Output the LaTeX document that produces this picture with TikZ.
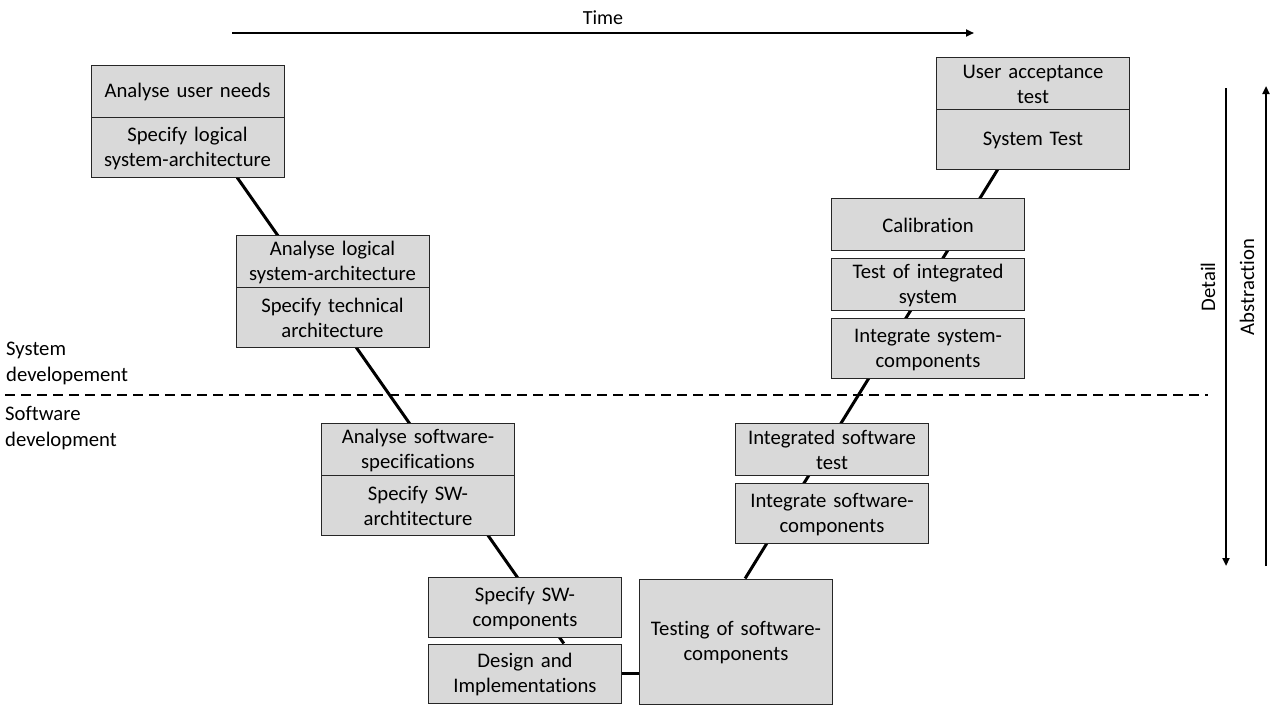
\documentclass[tikz,border=0pt]{standalone}
\usepackage{fontspec}
\setmainfont{Carlito}[Ligatures=NoCommon]
\usetikzlibrary{arrows.meta,backgrounds,calc}
\definecolor{boxgray}{HTML}{D9D9D9}
\tikzset{
	phase/.style={draw=black!85, line width=1pt, fill=boxgray, minimum width=193pt, text width=190pt, align=center, inner sep=0pt, text height=16.5pt, font=\fontsize{20.7}{25}\selectfont},
	vline/.style={line width=3pt},
	label/.style={inner sep=0pt, font=\fontsize{20.7}{25.5}\selectfont}
}
\begin{document}
\begin{tikzpicture}[x=1pt, y=-1pt]
		\useasboundingbox (0,0) rectangle (1280,720);
		\node[phase, minimum height=52pt] (needs) at (187.5, 91) {Analyse user needs};
		\node[phase, minimum height=60pt] (logspec) at (187.5, 147) {Specify logical\\system-architecture};
		\node[phase, minimum height=52pt] (loganalyse) at (332.5, 261) {Analyse logical\\system-architecture};
		\node[phase, minimum height=60pt] (techspec) at (332.5, 317) {Specify technical\\architecture};
		\node[phase, minimum height=52pt] (swanalyse) at (418, 449) {Analyse software-\\specifications};
		\node[phase, minimum height=60pt] (swarch) at (418, 505) {Specify SW-\\archtitecture};
		\node[phase, minimum height=60pt] (swcomp) at (525, 607) {Specify SW-\\components};
		\node[phase, minimum height=59pt] (design) at (525, 673.5) {Design and\\Implementations};
		\node[phase, minimum height=125pt] (testing) at (736, 641.5) {Testing of software-\\components};
		\node[phase, minimum height=60pt] (swintegrate) at (832, 513) {Integrate software-\\components};
		\node[phase, minimum height=52pt] (swtest) at (832, 449) {Integrated software\\test};
		\node[phase, minimum height=60pt] (sysintegrate) at (928, 348) {Integrate system-\\components};
		\node[phase, minimum height=52pt] (systest) at (928, 284) {Test of integrated\\system};
		\node[phase, minimum height=52pt] (calib) at (928, 224) {Calibration};
		\node[phase, minimum height=52pt] (accept) at (1033, 83) {User acceptance\\test};
		\node[phase, minimum height=60pt] (fulltest) at (1033, 139) {System Test};

		\node[label, align=left, anchor=west] (sysdev) at (6, 363.5) {System\\developement};
		\node[label, align=left, anchor=west] (swdev) at (5, 428) {Software\\development};
		\node[label, font=\fontsize{20}{24}\selectfont] (time) at (603, 18) {Time};
		\node[label, rotate=90] (detail) at (1208, 287) {Detail};
		\node[label, rotate=90] (abstr) at (1247, 287) {Abstraction};

		\coordinate (t0) at (232, 33);
		\coordinate (t1) at (974, 33);
		\coordinate (d0) at (1226, 88);
		\coordinate (d1) at (1226, 566);
		\coordinate (a0) at (1266, 566);
		\coordinate (a1) at (1266, 86);

		\begin{scope}[on background layer]
			\draw[vline] ($(logspec.south west)!0.756!(logspec.south east)$) -- ($(design.north west)!0.70!(design.north east)$);
			\draw[vline] ($(testing.north west)!0.547!(testing.north east)$) -- ($(fulltest.south west)!0.318!(fulltest.south east)$);
			\draw[vline] (design.east) -- (design.east -| testing.west);
		\end{scope}

		\draw[line width=1.5pt, dash pattern=on 10pt off 6pt] (5, 395) -- (1208, 395);
		\draw[line width=2pt, -{Triangle[length=8pt, width=7pt]}] (t0) -- (t1);
		\draw[line width=2pt, -{Triangle[length=8pt, width=7pt]}] (d0) -- (d1);
		\draw[line width=2pt, -{Triangle[length=8pt, width=7pt]}] (a0) -- (a1);
	\end{tikzpicture}
\end{document}
